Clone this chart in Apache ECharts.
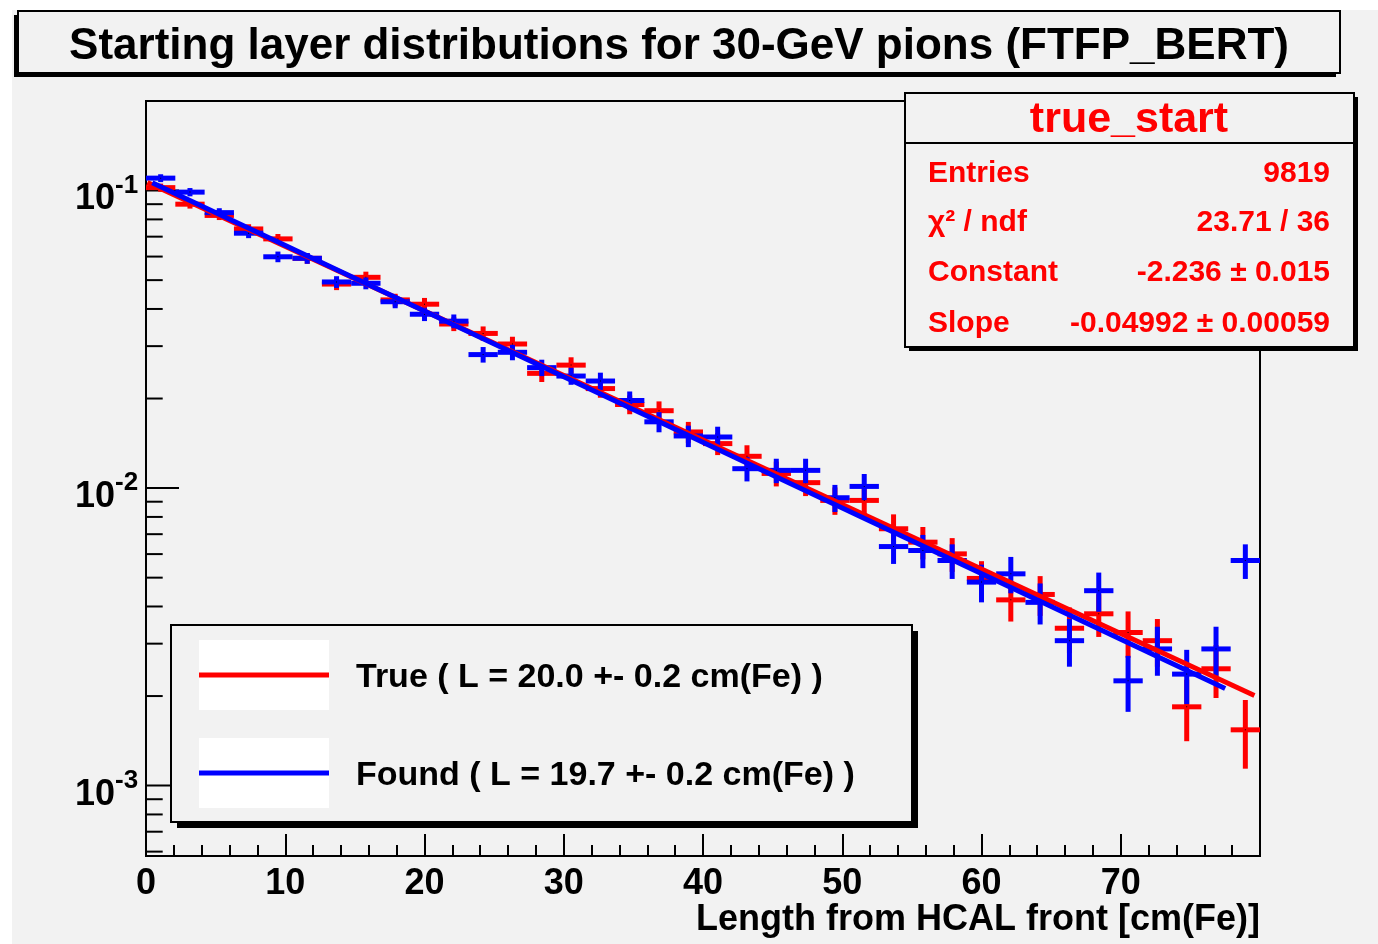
<!DOCTYPE html>
<html><head><meta charset="utf-8">
<script src="https://cdn.jsdelivr.net/npm/echarts@6/dist/echarts.min.js"></script>
<style>html,body{margin:0;padding:0;background:#fff;} #c{width:1378px;height:944px;}</style>
</head><body><div id="c"></div>
<script>
// ---------------- data ----------------
const titleText = 'Starting layer distributions for 30-GeV pions (FTFP_BERT)';
const xAxisTitle = 'Length from HCAL front [cm(Fe)]';
const nBins = 38, xMin = 0, xMax = 80;
const yMin = 0.00058, yMax = 0.2;

const trueValues = [0.1023,0.0900,0.0825,0.0743,0.0688,0.0592,0.0485,0.0511,0.0429,0.0415,
  0.0356,0.0331,0.0305,0.0243,0.0259,0.0216,0.0191,0.0182,0.01544,0.01411,
  0.01279,0.0112,0.01043,0.00909,0.00909,0.0073,0.00658,0.00601,0.00497,0.00421,
  0.00439,0.00338,0.00378,0.00327,0.00307,0.00184,0.00247,0.00154];
const trueErrors = [0.00323,0.00303,0.00290,0.00275,0.00265,0.00246,0.00222,0.00228,0.00209,0.00206,
  0.00190,0.00184,0.00176,0.00157,0.00162,0.00148,0.00139,0.00136,0.00125,0.00120,
  0.00114,0.00107,0.00103,0.00096,0.00096,0.00086,0.00082,0.00078,0.00071,0.00065,
  0.00067,0.00059,0.00062,0.00058,0.00056,0.00043,0.00050,0.00040];
const foundValues = [0.1101,0.0988,0.0843,0.0719,0.0599,0.0592,0.0493,0.0488,0.0423,0.0384,
  0.0364,0.0281,0.0286,0.0254,0.0238,0.0229,0.0197,0.0167,0.01497,0.01485,
  0.01162,0.01147,0.01147,0.00928,0.01013,0.00636,0.00617,0.00571,0.00483,0.00515,
  0.00413,0.00307,0.00452,0.00225,0.00288,0.00237,0.00288,0.00571];
const foundErrors = [0.00335,0.00317,0.00293,0.00271,0.00247,0.00246,0.00224,0.00223,0.00208,0.00198,
  0.00193,0.00169,0.00171,0.00161,0.00156,0.00153,0.00142,0.00130,0.00124,0.00123,
  0.00109,0.00108,0.00108,0.00097,0.00102,0.00080,0.00079,0.00076,0.00070,0.00072,
  0.00065,0.00056,0.00068,0.00048,0.00054,0.00049,0.00054,0.00076];

const trueFitX = [0.1, 79.6];
const trueFitY = [0.1064, 0.00201];
const foundFitX = [0.45, 77.5];
const foundFitY = [0.1062, 0.00212];

const statsTitle = 'true_start';
const statsNames = ['Entries', 'χ² / ndf', 'Constant', 'Slope'];
const statsValues = ['9819', '23.71 / 36', '-2.236 ± 0.015', '-0.04992 ± 0.00059'];
const legendLabels = ['True ( L = 20.0 +- 0.2 cm(Fe) )', 'Found ( L = 19.7 +- 0.2 cm(Fe) )'];

const yMajorTicks = [0.001, 0.01, 0.1];
const yMajorExponents = ['-3', '-2', '-1'];
const yMinorTicks = [0.0006,0.0007,0.0008,0.0009,
  0.002,0.003,0.004,0.005,0.006,0.007,0.008,0.009,
  0.02,0.03,0.04,0.05,0.06,0.07,0.08,0.09];

// ---------------- chart ----------------
const RED = '#ff0000', BLUE = '#0000ff', BG = '#f2f2f2';
const FONT = '"Liberation Sans", Arial, Helvetica, sans-serif';
const binWidth = (xMax - xMin) / nBins;
const centers = trueValues.map((_, i) => xMin + (i + 0.5) * binWidth);
const toErr = (vals, errs) => vals.map((v, i) => [centers[i], v, errs[i]]);

function errRenderer(color) {
  return function (params, api) {
    const x = api.value(0), y = api.value(1), e = api.value(2);
    const c = api.coord([x, y]);
    const l = api.coord([x - binWidth / 2, y]);
    const r = api.coord([x + binWidth / 2, y]);
    const hi = api.coord([x, y + e]);
    const lo = api.coord([x, y - e]);
    return { type: 'group', children: [
      { type: 'line', shape: { x1: l[0], y1: c[1], x2: r[0], y2: c[1] }, style: { stroke: color, lineWidth: 5 } },
      { type: 'line', shape: { x1: c[0], y1: hi[1], x2: c[0], y2: lo[1] }, style: { stroke: color, lineWidth: 5 } },
      { type: 'rect', shape: { x: c[0] - 0.5, y: c[1] - 0.5, width: 1, height: 1 }, style: { fill: '#000' } }
    ] };
  };
}

const yTickData = yMinorTicks.map(v => [xMin, v, 16.7]).concat(yMajorTicks.map(v => [xMin, v, 33]));
const statsRowsY = [174, 223, 273, 324];

const chart = echarts.init(document.getElementById('c'), null, { width: 1378, height: 944 });
chart.setOption({
  animation: false,
  backgroundColor: BG,
  grid: { left: 146, top: 101, width: 1114, height: 755, show: true, borderColor: '#000', borderWidth: 2, backgroundColor: BG },
  xAxis: {
    type: 'value', min: xMin, max: xMax, interval: 10,
    axisLine: { show: true, lineStyle: { color: '#000', width: 2 } },
    axisTick: { show: true, inside: true, length: 22, lineStyle: { color: '#000', width: 2 } },
    minorTick: { show: true, splitNumber: 5, length: 11, lineStyle: { color: '#000', width: 2 } },
    splitLine: { show: false },
    axisLabel: { show: true, showMaxLabel: false, margin: 10, color: '#000', fontSize: 36, fontWeight: 'bold', fontFamily: FONT }
  },
  yAxis: {
    type: 'log', logBase: 10, min: yMin, max: yMax,
    axisLine: { show: true, lineStyle: { color: '#000', width: 2 } },
    axisTick: { show: false }, splitLine: { show: false }, axisLabel: { show: false }
  },
  series: [
    { type: 'custom', name: 'yticks', data: yTickData, encode: { x: 0, y: 1 }, z: 1,
      renderItem: function (p, api) {
        const c = api.coord([api.value(0), api.value(1)]);
        const len = api.value(2);
        return { type: 'line', shape: { x1: c[0], y1: c[1], x2: c[0] + len, y2: c[1] }, style: { stroke: '#000', lineWidth: 2 } };
      } },
    { type: 'custom', name: 'ylabels', data: yMajorTicks.map((v, i) => [xMin, v, i]), encode: { x: 0, y: 1 }, z: 1,
      renderItem: function (p, api) {
        const c = api.coord([api.value(0), api.value(1)]);
        const idx = api.value(2);
        return { type: 'group', children: [
          { type: 'text', style: { x: c[0] - 31, y: c[1] + 9, text: '10', align: 'right', verticalAlign: 'middle', fill: '#000', font: 'bold 36px ' + FONT } },
          { type: 'text', style: { x: c[0] - 31, y: c[1] - 5, text: yMajorExponents[idx], align: 'left', verticalAlign: 'middle', fill: '#000', font: 'bold 26px ' + FONT } }
        ] };
      } },
    { type: 'custom', name: 'True', data: toErr(trueValues, trueErrors), encode: { x: 0, y: 1 }, z: 3, renderItem: errRenderer(RED) },
    { type: 'line', name: 'True fit', data: trueFitX.map((x, i) => [x, trueFitY[i]]), symbol: 'none', z: 3,
      lineStyle: { color: RED, width: 5 } },
    { type: 'custom', name: 'Found', data: toErr(foundValues, foundErrors), encode: { x: 0, y: 1 }, z: 3, renderItem: errRenderer(BLUE) },
    { type: 'line', name: 'Found fit', data: foundFitX.map((x, i) => [x, foundFitY[i]]), symbol: 'none', z: 3,
      lineStyle: { color: BLUE, width: 5 } }
  ],
  graphic: [
    // white margins
    { type: 'rect', z: 100, silent: true, shape: { x: 0, y: 0, width: 1378, height: 10 }, style: { fill: '#fff' } },
    { type: 'rect', z: 100, silent: true, shape: { x: 0, y: 0, width: 12, height: 944 }, style: { fill: '#fff' } },
    // title box
    { type: 'rect', z: 100, silent: true, shape: { x: 14, y: 15, width: 1322, height: 62 }, style: { fill: '#000' } },
    { type: 'rect', z: 101, silent: true, shape: { x: 18, y: 11, width: 1322, height: 62 }, style: { fill: BG, stroke: '#000', lineWidth: 2 } },
    { type: 'text', z: 102, silent: true, style: { x: 679, y: 47, text: titleText, align: 'center', verticalAlign: 'middle', fill: '#000', font: 'bold 44px ' + FONT } },
    // x axis title
    { type: 'text', z: 102, silent: true, style: { x: 1260, y: 920, text: xAxisTitle, align: 'right', verticalAlign: 'middle', fill: '#000', font: 'bold 36px ' + FONT } },
    // stats box
    { type: 'rect', z: 100, silent: true, shape: { x: 909, y: 97, width: 449, height: 254 }, style: { fill: '#000' } },
    { type: 'rect', z: 101, silent: true, shape: { x: 905, y: 93, width: 449, height: 254 }, style: { fill: BG, stroke: '#000', lineWidth: 2 } },
    { type: 'line', z: 102, silent: true, shape: { x1: 905, y1: 143, x2: 1354, y2: 143 }, style: { stroke: '#000', lineWidth: 2 } },
    { type: 'text', z: 102, silent: true, style: { x: 1129, y: 120, text: statsTitle, align: 'center', verticalAlign: 'middle', fill: RED, font: 'bold 43px ' + FONT } },
    ...statsNames.map((n, i) => ({ type: 'text', z: 102, silent: true, style: { x: 928, y: statsRowsY[i], text: n, align: 'left', verticalAlign: 'middle', fill: RED, font: 'bold 30px ' + FONT } })),
    ...statsValues.map((n, i) => ({ type: 'text', z: 102, silent: true, style: { x: 1330, y: statsRowsY[i], text: n, align: 'right', verticalAlign: 'middle', fill: RED, font: 'bold 30px ' + FONT } })),
    // legend box
    { type: 'rect', z: 100, silent: true, shape: { x: 177, y: 631, width: 741, height: 197 }, style: { fill: '#000' } },
    { type: 'rect', z: 101, silent: true, shape: { x: 171, y: 625, width: 741, height: 197 }, style: { fill: BG, stroke: '#000', lineWidth: 2 } },
    { type: 'rect', z: 102, silent: true, shape: { x: 199, y: 640, width: 130, height: 70 }, style: { fill: '#fff' } },
    { type: 'rect', z: 102, silent: true, shape: { x: 199, y: 738, width: 130, height: 70 }, style: { fill: '#fff' } },
    { type: 'line', z: 103, silent: true, shape: { x1: 199, y1: 675, x2: 329, y2: 675 }, style: { stroke: RED, lineWidth: 5 } },
    { type: 'line', z: 103, silent: true, shape: { x1: 199, y1: 773, x2: 329, y2: 773 }, style: { stroke: BLUE, lineWidth: 5 } },
    { type: 'text', z: 103, silent: true, style: { x: 356, y: 678, text: legendLabels[0], align: 'left', verticalAlign: 'middle', fill: '#000', font: 'bold 34px ' + FONT } },
    { type: 'text', z: 103, silent: true, style: { x: 356, y: 776, text: legendLabels[1], align: 'left', verticalAlign: 'middle', fill: '#000', font: 'bold 34px ' + FONT } }
  ]
});
</script>
</body></html>
